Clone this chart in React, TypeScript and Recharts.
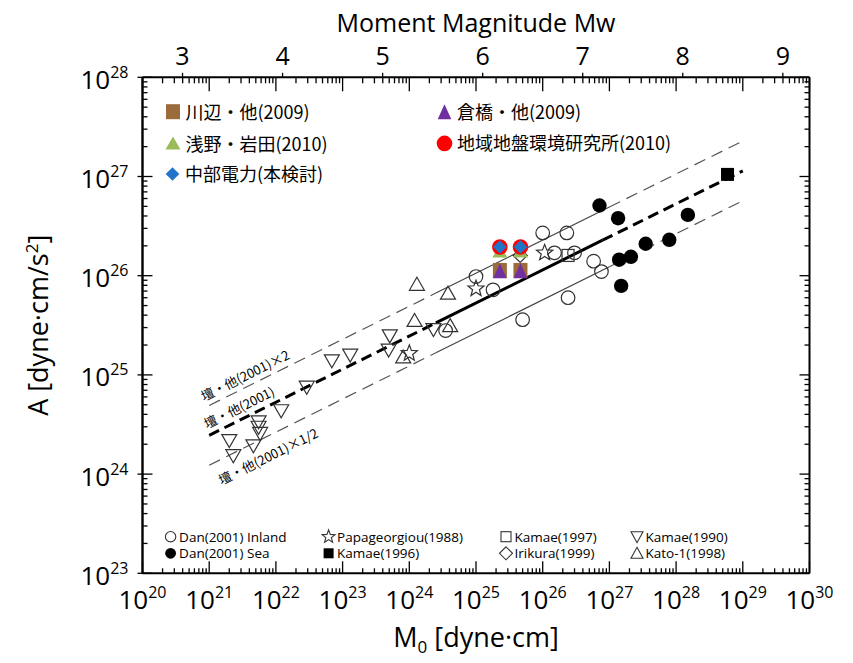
import React from 'react';
import { ComposedChart, Scatter, XAxis, YAxis, ReferenceLine } from 'recharts';

// ---------- layout ----------
const W = 845;
const H = 655;
const LEFT = 134.5;
const TOP = 69.3;
const PW = 667;
const PH = 496;
const RIGHT_W = W - LEFT - PW;
const BOTTOM_H = H - TOP - PH;
const PLOT_BOTTOM = TOP + PH;
const PLOT_RIGHT = LEFT + PW;

const FONT = "'Open Sans', 'Noto Sans', sans-serif";
const JP = "'Noto Sans CJK JP', 'Noto Sans', sans-serif";
const GRAY = '#333333';

// ---------- axes ----------
const xDecades = [20, 21, 22, 23, 24, 25, 26, 27, 28, 29, 30];
const yDecades = [23, 24, 25, 26, 27, 28];
const minorMultipliers = [2, 3, 4, 5, 6, 7, 8, 9];
const mwTicks = [3, 4, 5, 6, 7, 8, 9];
// Mw = (log10 M0 - 16.1) / 1.5
const MW_OFFSET = 16.1;
const MW_SLOPE = 1.5;

const buildLogTicks = (decs: number[]) => {
  const out: number[] = [];
  decs.forEach((d, i) => {
    out.push(Math.pow(10, d));
    if (i < decs.length - 1) minorMultipliers.forEach((m) => out.push(m * Math.pow(10, d)));
  });
  return out;
};
const xTicks = buildLogTicks(xDecades);
const yTicks = buildLogTicks(yDecades);
const xDomain = [Math.pow(10, xDecades[0]), Math.pow(10, xDecades[xDecades.length - 1])];
const yDomain = [Math.pow(10, yDecades[0]), Math.pow(10, yDecades[yDecades.length - 1])];
const mwDomain = [
  (xDecades[0] - MW_OFFSET) / MW_SLOPE,
  (xDecades[xDecades.length - 1] - MW_OFFSET) / MW_SLOPE,
];

// ---------- data (M0 [dyne·cm], A [dyne·cm/s^2]) ----------
const danInlandM0 = [1.0e25, 1.8e25, 1.0e26, 2.3e26, 1.5e26, 3.0e26, 5.8e26, 7.6e26, 2.4e26, 5.0e25, 3.5e24];
const danInlandA = [9.8e25, 7.2e25, 2.7e26, 2.7e26, 1.7e26, 1.7e26, 1.4e26, 1.1e26, 6.0e25, 3.6e25, 2.8e25];

const danSeaM0 = [7.1e26, 1.35e27, 1.5e28, 7.9e27, 3.5e27, 2.1e27, 1.4e27, 1.5e27];
const danSeaA = [5.1e26, 3.8e26, 4.1e26, 2.3e26, 2.1e26, 1.55e26, 1.45e26, 7.9e25];

const papaM0 = [1.0e25, 1.07e26, 1.0e24];
const papaA = [7.4e25, 1.7e26, 1.65e25];

const kamae96M0 = [5.9e28];
const kamae96A = [1.05e27];

const kamae97M0 = [2.4e26];
const kamae97A = [1.6e26];

const irikuraM0 = [4.6e25];
const irikuraA = [1.6e26];

const kamae90M0 = [5.1e23, 4.9e23, 2.3e24, 6.9e22, 1.3e23, 2.9e22, 1.2e22, 5.5e21, 5.5e21, 5.8e21, 2.0e21, 4.6e21, 2.3e21];
const kamae90A = [2.5e25, 1.8e25, 2.9e25, 1.4e25, 1.6e25, 7.6e24, 4.4e24, 3.4e24, 3.0e24, 2.6e24, 2.2e24, 1.95e24, 1.55e24];

const katoM0 = [1.3e24, 3.8e24, 1.2e24, 4.1e24, 8.1e23];
const katoA = [8.1e25, 6.6e25, 3.5e25, 3.1e25, 1.5e25];

const studyM0 = [2.28e25, 4.64e25];
const kawanabeA = [1.13e26, 1.13e26];
const kurahashiA = [1.12e26, 1.12e26];
const asanoA = [1.75e26, 1.75e26];
const geoResA = [1.95e26, 1.95e26];
const chubuA = [1.95e26, 1.95e26];

// Dan et al.(2001) relation and x2, x1/2 (break points: extrapolated / data range / extrapolated)
const danLineM0 = [1e21, 2.5e24, 7.9e26, 1e29];
const danLineA = [2.46e24, 3.34e25, 2.28e26, 1.14e27];
const dan2LineM0 = [1e21, 2.5e24, 1e27, 1e29];
const dan2LineA = [4.92e24, 6.68e25, 4.92e26, 2.28e27];
const danHalfLineM0 = [1e21, 2.5e24, 1e27, 1e29];
const danHalfLineA = [1.23e24, 1.67e25, 1.23e26, 5.7e26];

const zip = (xs: number[], ys: number[]) => xs.map((x, i) => ({ x, y: ys[i] }));

// ---------- shapes ----------
const starPath = (cx: number, cy: number, R: number, r: number) => {
  let d = '';
  for (let i = 0; i < 10; i++) {
    const a = -Math.PI / 2 + (i * Math.PI) / 5;
    const rad = i % 2 === 0 ? R : r;
    d += (i === 0 ? 'M' : 'L') + (cx + rad * Math.cos(a)).toFixed(2) + ',' + (cy + rad * Math.sin(a)).toFixed(2);
  }
  return d + 'Z';
};

const shapeOpenCircle = (p: any) => <circle cx={p.cx} cy={p.cy} r={6.8} fill="none" stroke={GRAY} strokeWidth={1.2} />;
const shapeFilledCircle = (p: any) => <circle cx={p.cx} cy={p.cy} r={7.2} fill="#000" />;
const shapeStar = (p: any) => <path d={starPath(p.cx, p.cy, 8.5, 3.6)} fill="none" stroke={GRAY} strokeWidth={1.2} />;
const shapeFilledSquare = (p: any) => <rect x={p.cx - 6.5} y={p.cy - 6.5} width={13} height={13} fill="#000" />;
const shapeOpenSquare = (p: any) => <rect x={p.cx - 6} y={p.cy - 6} width={12} height={12} fill="none" stroke={GRAY} strokeWidth={1.2} />;
const shapeOpenDiamond = (p: any) => (
  <path d={`M${p.cx},${p.cy - 7}L${p.cx + 7},${p.cy}L${p.cx},${p.cy + 7}L${p.cx - 7},${p.cy}Z`} fill="none" stroke={GRAY} strokeWidth={1.2} />
);
const shapeTriDown = (p: any) => (
  <path d={`M${p.cx - 7.5},${p.cy - 5.5}L${p.cx + 7.5},${p.cy - 5.5}L${p.cx},${p.cy + 7.5}Z`} fill="none" stroke={GRAY} strokeWidth={1.2} />
);
const shapeTriUp = (p: any) => (
  <path d={`M${p.cx},${p.cy - 7.5}L${p.cx + 7.5},${p.cy + 5.5}L${p.cx - 7.5},${p.cy + 5.5}Z`} fill="none" stroke={GRAY} strokeWidth={1.2} />
);
const shapeBrownSquare = (p: any) => <rect x={p.cx - 7} y={p.cy - 7.5} width={14} height={15} fill="#9B6B3B" />;
const shapePurpleTri = (p: any) => (
  <path d={`M${p.cx},${p.cy - 7.5}L${p.cx + 6.8},${p.cy + 7.5}L${p.cx - 6.8},${p.cy + 7.5}Z`} fill="#7030A0" />
);
const shapeGreenTri = (p: any) => (
  <path d={`M${p.cx},${p.cy - 7}L${p.cx + 7.5},${p.cy + 6}L${p.cx - 7.5},${p.cy + 6}Z`} fill="#9BBB59" />
);
const shapeRedCircle = (p: any) => <circle cx={p.cx} cy={p.cy} r={7.8} fill="#FF0000" />;
const shapeBlueDiamond = (p: any) => (
  <path d={`M${p.cx},${p.cy - 6.8}L${p.cx + 6.8},${p.cy}L${p.cx},${p.cy + 6.8}L${p.cx - 6.8},${p.cy}Z`} fill="#2175C9" />
);
const shapeNone = () => <g />;

// ---------- ticks ----------
const isMajor = (v: number) => {
  const lg = Math.log10(v);
  return Math.abs(lg - Math.round(lg)) < 1e-6;
};

const BottomTick = (props: any) => {
  const { x, payload } = props;
  const v = payload.value;
  const major = isMajor(v);
  return (
    <g>
      <line x1={x} x2={x} y1={PLOT_BOTTOM} y2={PLOT_BOTTOM - (major ? 12 : 5)} stroke="#000" strokeWidth={1.3} />
      <line x1={x} x2={x} y1={TOP} y2={TOP + (major ? 14 : 6)} stroke="#000" strokeWidth={1.3} />
      {major && (
        <text x={x} y={PLOT_BOTTOM + 36} textAnchor="middle" fontSize={26} fontFamily={FONT} fill="#000">
          10
          <tspan dy={-11} fontSize={16}>
            {Math.round(Math.log10(v))}
          </tspan>
        </text>
      )}
    </g>
  );
};

const LeftTick = (props: any) => {
  const { y, payload } = props;
  const v = payload.value;
  const major = isMajor(v);
  return (
    <g>
      <line x1={major ? LEFT - 5 : LEFT} x2={LEFT + (major ? 10 : 5)} y1={y} y2={y} stroke="#000" strokeWidth={1.3} />
      {major && (
        <text x={LEFT - 14} y={y + 11.5} textAnchor="end" fontSize={26} fontFamily={FONT} fill="#000">
          10
          <tspan dy={-11} fontSize={16}>
            {Math.round(Math.log10(v))}
          </tspan>
        </text>
      )}
    </g>
  );
};

const RightTick = (props: any) => {
  const { y, payload } = props;
  const major = isMajor(payload.value);
  return <line x1={PLOT_RIGHT} x2={PLOT_RIGHT - (major ? 10 : 5)} y1={y} y2={y} stroke="#000" strokeWidth={1.3} />;
};

const TopTick = (props: any) => {
  const { x, payload } = props;
  return (
    <g>
      <line x1={x} x2={x} y1={TOP} y2={TOP - 4.5} stroke="#000" strokeWidth={1.3} />
      <text x={x} y={TOP - 12.3} textAnchor="middle" fontSize={25} fontFamily={FONT} fill="#000">
        {payload.value}
      </text>
    </g>
  );
};

// ---------- legends ----------
const jpLegend = [
  { label: '川辺・他(2009)', shape: shapeBrownSquare, x: 165, y: 103.7 },
  { label: '倉橋・他(2009)', shape: shapePurpleTri, x: 436.5, y: 103.7 },
  { label: '浅野・岩田(2010)', shape: shapeGreenTri, x: 165, y: 135.6 },
  { label: '地域地盤環境研究所(2010)', shape: shapeRedCircle, x: 436.5, y: 135.4 },
  { label: '中部電力(本検討)', shape: shapeBlueDiamond, x: 164.5, y: 166 },
];

const smallCircleOpen = (p: any) => <circle cx={p.cx} cy={p.cy} r={5.2} fill="none" stroke={GRAY} strokeWidth={1.1} />;
const smallCircleFilled = (p: any) => <circle cx={p.cx} cy={p.cy} r={5.4} fill="#000" />;
const smallStar = (p: any) => <path d={starPath(p.cx, p.cy, 6.8, 2.9)} fill="none" stroke={GRAY} strokeWidth={1.1} />;
const smallSquareFilled = (p: any) => <rect x={p.cx - 5} y={p.cy - 5} width={10} height={10} fill="#000" />;
const smallSquareOpen = (p: any) => <rect x={p.cx - 5} y={p.cy - 5} width={10} height={10} fill="none" stroke={GRAY} strokeWidth={1.1} />;
const smallDiamond = (p: any) => (
  <path d={`M${p.cx},${p.cy - 6.5}L${p.cx + 6.5},${p.cy}L${p.cx},${p.cy + 6.5}L${p.cx - 6.5},${p.cy}Z`} fill="none" stroke={GRAY} strokeWidth={1.1} />
);
const smallTriDown = (p: any) => (
  <path d={`M${p.cx - 6},${p.cy - 5}L${p.cx + 6},${p.cy - 5}L${p.cx},${p.cy + 6}Z`} fill="none" stroke={GRAY} strokeWidth={1.1} />
);
const smallTriUp = (p: any) => (
  <path d={`M${p.cx},${p.cy - 6}L${p.cx + 6},${p.cy + 5}L${p.cx - 6},${p.cy + 5}Z`} fill="none" stroke={GRAY} strokeWidth={1.1} />
);

const bottomLegend = [
  { label: 'Dan(2001) Inland', shape: smallCircleOpen, x: 162.6, y: 528.7 },
  { label: 'Dan(2001) Sea', shape: smallCircleFilled, x: 162.6, y: 545.3 },
  { label: 'Papageorgiou(1988)', shape: smallStar, x: 320.6, y: 528.7 },
  { label: 'Kamae(1996)', shape: smallSquareFilled, x: 320.6, y: 545.3 },
  { label: 'Kamae(1997)', shape: smallSquareOpen, x: 498, y: 528.7 },
  { label: 'Irikura(1999)', shape: smallDiamond, x: 498, y: 545.3 },
  { label: 'Kamae(1990)', shape: smallTriDown, x: 629, y: 528.7 },
  { label: 'Kato-1(1998)', shape: smallTriUp, x: 629, y: 545.3 },
];

const lineAnnotations = [
  { label: '壇・他(2001)×2', x: 237, y: 367 },
  { label: '壇・他(2001)', x: 231, y: 399 },
  { label: '壇・他(2001)×1/2', x: 260, y: 448 },
];
const LINE_ANGLE = -26.4;

type LineDef = { xs: number[]; ys: number[]; thick: boolean };
const refLines: LineDef[] = [
  { xs: dan2LineM0, ys: dan2LineA, thick: false },
  { xs: danHalfLineM0, ys: danHalfLineA, thick: false },
  { xs: danLineM0, ys: danLineA, thick: true },
];

// anchors that keep the Mw (top) and mirrored (right) axes bound to the chart
const mwAnchor = mwTicks.map((m) => ({ x: m, y: yDomain[0] }));

export default function App() {
  const segs: any[] = [];
  refLines.forEach((ln, li) => {
    for (let i = 0; i < ln.xs.length - 1; i++) {
      const dashed = i !== 1;
      segs.push(
        <ReferenceLine
          key={`seg-${li}-${i}`}
          xAxisId="bottom"
          yAxisId="left"
          ifOverflow="visible"
          segment={[
            { x: ln.xs[i], y: ln.ys[i] },
            { x: ln.xs[i + 1], y: ln.ys[i + 1] },
          ]}
          stroke={ln.thick ? '#000' : dashed ? '#555' : '#444'}
          strokeWidth={ln.thick ? 3 : 1.2}
          strokeDasharray={dashed ? (ln.thick ? '11 6' : '12 7') : undefined}
        />
      );
    }
  });

  const series: { data: { x: number; y: number }[]; shape: any; name: string }[] = [
    { name: 'kamae90', data: zip(kamae90M0, kamae90A), shape: shapeTriDown },
    { name: 'kato', data: zip(katoM0, katoA), shape: shapeTriUp },
    { name: 'irikura', data: zip(irikuraM0, irikuraA), shape: shapeOpenDiamond },
    { name: 'kamae97', data: zip(kamae97M0, kamae97A), shape: shapeOpenSquare },
    { name: 'papa', data: zip(papaM0, papaA), shape: shapeStar },
    { name: 'danInland', data: zip(danInlandM0, danInlandA), shape: shapeOpenCircle },
    { name: 'danSea', data: zip(danSeaM0, danSeaA), shape: shapeFilledCircle },
    { name: 'kamae96', data: zip(kamae96M0, kamae96A), shape: shapeFilledSquare },
    { name: 'kawanabe', data: zip(studyM0, kawanabeA), shape: shapeBrownSquare },
    { name: 'kurahashi', data: zip(studyM0, kurahashiA), shape: shapePurpleTri },
    { name: 'asano', data: zip(studyM0, asanoA), shape: shapeGreenTri },
    { name: 'geores', data: zip(studyM0, geoResA), shape: shapeRedCircle },
    { name: 'chubu', data: zip(studyM0, chubuA), shape: shapeBlueDiamond },
  ];

  return (
    <div style={{ position: 'relative', width: W, height: H, background: '#fff' }}>
      <ComposedChart width={W} height={H} margin={{ top: 0, right: 0, bottom: 0, left: 0 }}>
        <XAxis
          xAxisId="bottom"
          dataKey="x"
          type="number"
          scale="log"
          domain={xDomain}
          allowDataOverflow
          ticks={xTicks}
          interval={0}
          orientation="bottom"
          height={BOTTOM_H}
          tickLine={false}
          axisLine={{ stroke: '#000', strokeWidth: 2 }}
          tick={BottomTick}
        />
        <XAxis
          xAxisId="top"
          dataKey="x"
          type="number"
          scale="linear"
          domain={mwDomain}
          allowDataOverflow
          ticks={mwTicks}
          interval={0}
          orientation="top"
          height={TOP}
          tickLine={false}
          axisLine={{ stroke: '#000', strokeWidth: 2 }}
          tick={TopTick}
        />
        <YAxis
          yAxisId="left"
          dataKey="y"
          type="number"
          scale="log"
          domain={yDomain}
          allowDataOverflow
          ticks={yTicks}
          interval={0}
          orientation="left"
          width={LEFT}
          tickLine={false}
          axisLine={{ stroke: '#000', strokeWidth: 2.4 }}
          tick={LeftTick}
        />
        <YAxis
          yAxisId="right"
          dataKey="y"
          type="number"
          scale="log"
          domain={yDomain}
          allowDataOverflow
          ticks={yTicks}
          interval={0}
          orientation="right"
          width={RIGHT_W}
          tickLine={false}
          axisLine={{ stroke: '#000', strokeWidth: 2 }}
          tick={RightTick}
        />
        {segs}
        <Scatter
          name="mwAnchor"
          data={mwAnchor}
          xAxisId="top"
          yAxisId="right"
          shape={shapeNone}
          isAnimationActive={false}
        />
        {series.map((s) => (
          <Scatter
            key={s.name}
            name={s.name}
            data={s.data}
            xAxisId="bottom"
            yAxisId="left"
            shape={s.shape}
            isAnimationActive={false}
          />
        ))}
      </ComposedChart>
      <svg width={W} height={H} style={{ position: 'absolute', left: 0, top: 0, pointerEvents: 'none', overflow: 'visible' }}>
        <text x={LEFT + PW / 2} y={24} textAnchor="middle" fontSize={25} fontFamily={FONT} fill="#000">
          Moment Magnitude Mw
        </text>
        <text x={LEFT + PW / 2} y={639} textAnchor="middle" fontSize={27} fontFamily={FONT} fill="#000">
          M
          <tspan dy={6} fontSize={17}>
            0
          </tspan>
          <tspan dy={-6}> [dyne·cm]</tspan>
        </text>
        <text transform={`translate(40, ${TOP + PH / 2}) rotate(-90)`} textAnchor="middle" fontSize={27} fontFamily={FONT} fill="#000">
          A [dyne·cm/s
          <tspan dy={-10} fontSize={17}>
            2
          </tspan>
          <tspan dy={10}>]</tspan>
        </text>
        {jpLegend.map((it) => (
          <g key={it.label}>
            {it.shape({ cx: it.x, cy: it.y })}
            <text x={it.x + 12.5} y={it.y - 1} dominantBaseline="central" fontSize={18} fontFamily={JP} fill="#000">
              {it.label}
            </text>
          </g>
        ))}
        {bottomLegend.map((it) => (
          <g key={it.label}>
            {it.shape({ cx: it.x, cy: it.y })}
            <text x={it.x + 8.5} y={it.y} dominantBaseline="central" fontSize={13.5} fontFamily={FONT} fill="#000">
              {it.label}
            </text>
          </g>
        ))}
        {lineAnnotations.map((a) => (
          <text
            key={a.label}
            x={a.x}
            y={a.y}
            textAnchor="middle"
            dominantBaseline="central"
            fontSize={13}
            fontFamily={JP}
            fill="#000"
            transform={`rotate(${LINE_ANGLE}, ${a.x}, ${a.y})`}
          >
            {a.label}
          </text>
        ))}
      </svg>
    </div>
  );
}
